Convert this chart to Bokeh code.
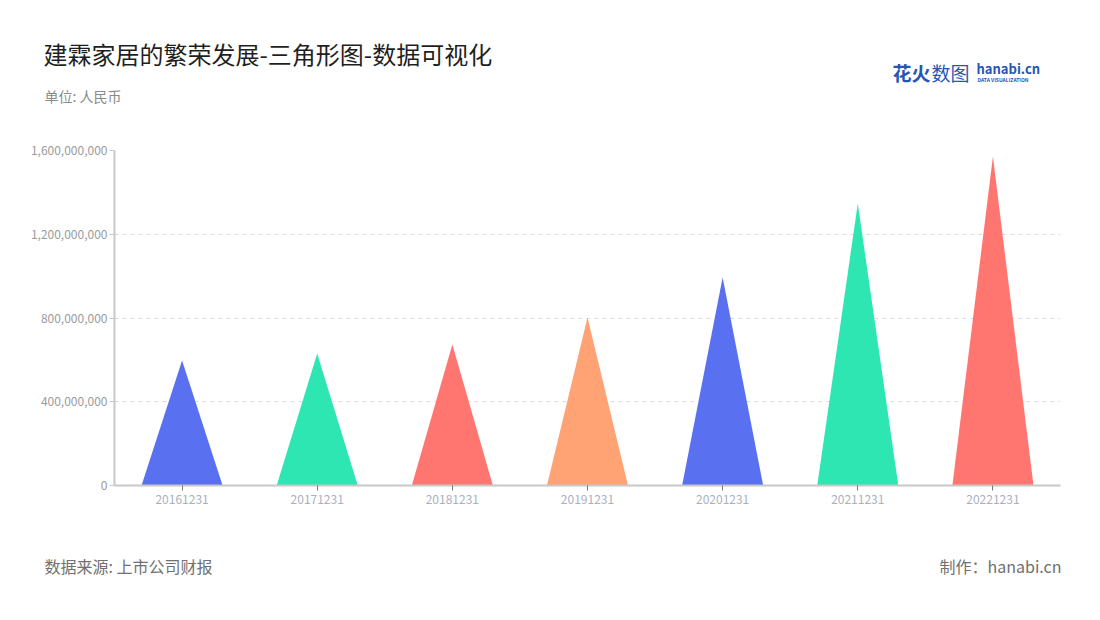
from bokeh.plotting import figure
from bokeh.models import Range1d, FixedTicker, NumeralTickFormatter, Label
from bokeh.layouts import column
from bokeh.embed import file_html
from bokeh.resources import INLINE

categories = ["20161231", "20171231", "20181231", "20191231", "20201231", "20211231", "20221231"]
values = [597e6, 630e6, 673e6, 802e6, 993e6, 1347e6, 1571e6]
colors = ["#5970F0", "#2DE6B1", "#FF7671", "#FFA274", "#5970F0", "#2DE6B1", "#FF7671"]
y_ticks = [0, 400e6, 800e6, 1200e6, 1600e6]

title_text = "建霖家居的繁荣发展-三角形图-数据可视化"
unit_text = "单位: 人民币"
source_text = "数据来源: 上市公司财报"
credit_text = "制作：hanabi.cn"

FONT = "Noto Sans CJK SC"
W = 1092
HEAD_H = 115
FOOT_H = 72


def text_panel(h):
    f = figure(width=W, height=h, output_backend="svg", toolbar_location=None,
               x_range=Range1d(0, W), y_range=Range1d(h, 0),
               x_axis_type=None, y_axis_type=None, min_border=0,
               min_border_left=0, min_border_right=0, min_border_top=0, min_border_bottom=0)
    f.outline_line_color = None
    f.grid.visible = False
    f.frame_align = False
    return f


def add_label(f, text, x, y, size, color, align="left", style="normal"):
    f.add_layout(Label(x=x, y=y, text=text, text_font=FONT, text_font_size=size,
                       text_color=color, text_align=align, text_baseline="middle",
                       text_font_style=style))


# header
head = text_panel(HEAD_H)
add_label(head, title_text, 43, 53, "24px", "#1f1f1f")
add_label(head, unit_text, 44, 95, "14px", "#8a8a8a")
add_label(head, "花火", 892, 72, "19px", "#2755b3", style="bold")
add_label(head, "数图", 931, 72, "19px", "#2755b3")
add_label(head, "hanabi.cn", 976, 68, "13px", "#2755b3", style="bold")
add_label(head, "DATA VISUALIZATION", 977, 79, "5px", "#2755b3", style="bold")

# main chart
p = figure(width=W, height=540 - HEAD_H, output_backend="svg", toolbar_location=None,
           x_range=Range1d(0, len(categories)), y_range=Range1d(0, 1.6e9),
           min_border_left=114, min_border_right=32,
           min_border_top=150 - HEAD_H, min_border_bottom=55)
p.outline_line_color = None

half = 0.3
xs = [[i + 0.5 - half, i + 0.5, i + 0.5 + half] for i in range(len(categories))]
ys = [[0, v, 0] for v in values]
p.patches(xs, ys, fill_color=colors, line_color=None)

p.xaxis.ticker = FixedTicker(ticks=[i + 0.5 for i in range(len(categories))])
p.xaxis.major_label_overrides = {i + 0.5: c for i, c in enumerate(categories)}
p.xaxis.axis_line_color = "#c8c8c8"
p.xaxis.axis_line_width = 2
p.xaxis.major_tick_line_color = "#777777"
p.xaxis.major_tick_in = 0
p.xaxis.major_tick_out = 5
p.xaxis.minor_tick_line_color = None
p.xaxis.major_label_text_color = "#aab0be"
p.xaxis.major_label_text_font = FONT
p.xaxis.major_label_text_font_size = "12px"
p.xaxis.major_label_standoff = 4

p.yaxis.ticker = FixedTicker(ticks=y_ticks)
p.yaxis.formatter = NumeralTickFormatter(format="0,0")
p.yaxis.axis_line_color = "#c8c8c8"
p.yaxis.axis_line_width = 2
p.yaxis.major_tick_line_color = "#c8c8c8"
p.yaxis.major_tick_in = 0
p.yaxis.major_tick_out = 5
p.yaxis.minor_tick_line_color = None
p.yaxis.major_label_text_color = "#9a9a9a"
p.yaxis.major_label_text_font = FONT
p.yaxis.major_label_text_font_size = "12px"
p.yaxis.major_label_standoff = 2

p.xgrid.grid_line_color = None
p.ygrid.ticker = FixedTicker(ticks=y_ticks)
p.ygrid.grid_line_color = "#dcdcdc"
p.ygrid.grid_line_dash = "4 4"

# footer
foot = text_panel(FOOT_H)
add_label(foot, source_text, 44, 25, "16px", "#707070")
add_label(foot, credit_text, 1061, 25, "16px", "#707070", align="right")

layout = column(head, p, foot, spacing=0)
open("out.html", "w").write(file_html(layout, INLINE))
